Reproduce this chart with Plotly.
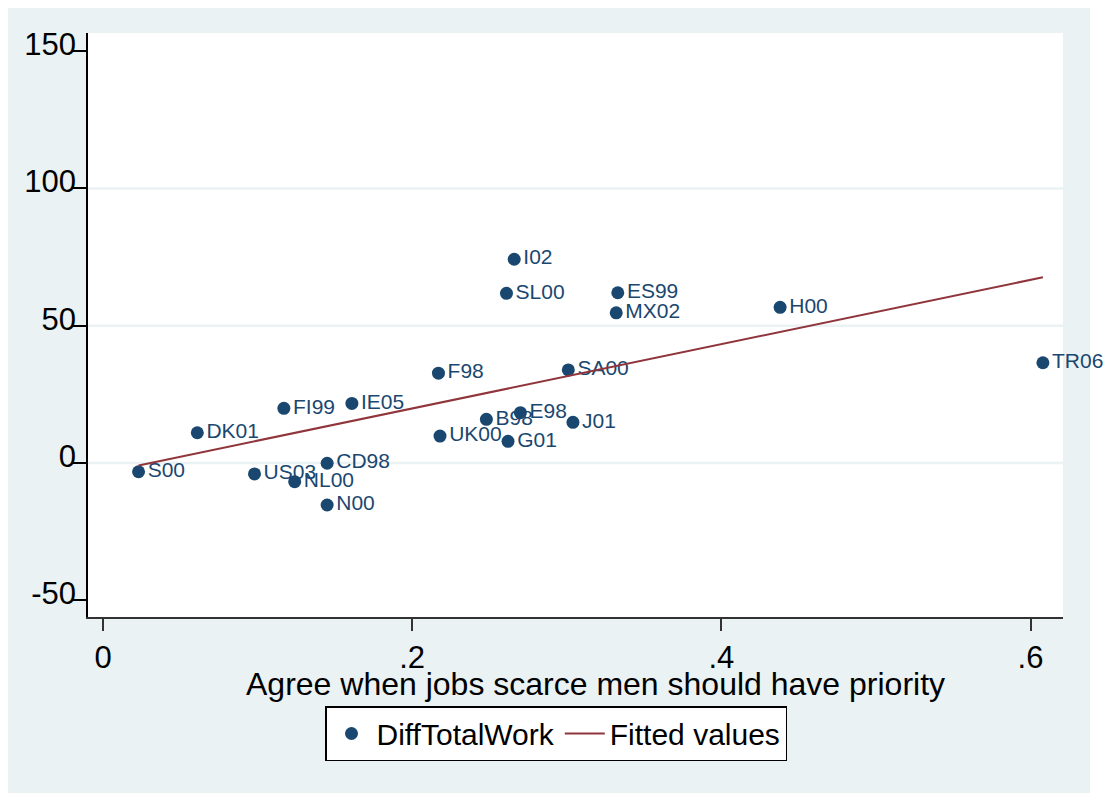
import numpy as np
import plotly.graph_objects as go

# ---- data ----
countries = ["S00", "DK01", "FI99", "IE05", "US03", "NL00", "CD98", "N00",
             "F98", "UK00", "B98", "E98", "G01", "SL00", "I02", "SA00",
             "J01", "ES99", "MX02", "H00", "TR06"]
agree_priority = [0.023, 0.061, 0.117, 0.161, 0.098, 0.124, 0.145, 0.145,
                  0.217, 0.218, 0.248, 0.270, 0.262, 0.261, 0.266, 0.301,
                  0.304, 0.333, 0.332, 0.438, 0.608]
diff_total_work = [-3.2, 11.0, 19.9, 21.7, -4.0, -6.8, -0.1, -15.3,
                   32.7, 9.8, 15.9, 18.3, 7.9, 61.8, 74.2, 33.9,
                   14.8, 62.0, 54.7, 56.7, 36.5]

y_ticks = [-50, 0, 50, 100, 150]
y_tick_labels = ["-50", "0", "50", "100", "150"]
y_grid = [0, 50, 100]
x_ticks = [0, 0.2, 0.4, 0.6]
x_tick_labels = ["0", ".2", ".4", ".6"]
x_title = "Agree when jobs scarce men should have priority"

# fitted values (OLS, as in Stata's lfit)
xa = np.array(agree_priority)
ya = np.array(diff_total_work)
slope, intercept = np.polyfit(xa, ya, 1)
fit_x = np.sort(xa)
fit_y = intercept + slope * fit_x

NAVY = "#1a476f"
MAROON = "#90353b"
BG = "#eaf2f3"
FONT = "Liberation Sans, Arial, sans-serif"

# the page adds an 8px body margin, so the figure is drawn 8px smaller/shifted
OFF = 8
W, H = 1115 - OFF, 793 - OFF
ML, MR, MT, MB = 88 - OFF, 1115 - 1063, 33 - OFF, 793 - 617
PW, PH = W - ML - MR, H - MT - MB


def px_x(p):  # page pixel -> paper x
    return (p - OFF - ML) / PW


def px_y(p):  # page pixel -> paper y
    return (H - MB - (p - OFF)) / PH


fig = go.Figure()
fig.add_trace(go.Scatter(
    x=agree_priority, y=diff_total_work, mode="markers+text",
    text=countries, textposition="middle right",
    textfont=dict(family=FONT, size=21, color=NAVY),
    marker=dict(color=NAVY, size=13),
    name="DiffTotalWork", cliponaxis=False,
))
fig.add_trace(go.Scatter(
    x=fit_x, y=fit_y, mode="lines",
    line=dict(color=MAROON, width=2),
    name="Fitted values", cliponaxis=False,
))

shapes = [
    # white strip to the right of the outer graph region
    dict(type="rect", xref="paper", yref="paper", layer="below",
         x0=px_x(1090), x1=px_x(1125), y0=px_y(800), y1=px_y(0),
         fillcolor="white", line=dict(width=0)),
]
for g in y_grid:
    shapes.append(dict(type="line", xref="paper", yref="y", layer="below",
                       x0=0, x1=1, y0=g, y1=g,
                       line=dict(color=BG, width=2.5)))

fig.update_layout(
    width=W, height=H,
    margin=dict(l=ML, r=MR, t=MT, b=MB),
    paper_bgcolor=BG, plot_bgcolor="white",
    font=dict(family=FONT, size=31, color="black"),
    shapes=shapes,
    showlegend=True,
    legend=dict(orientation="h", x=px_x(556), xanchor="center",
                y=px_y(706), yanchor="top",
                bgcolor="white", bordercolor="black", borderwidth=1.5,
                font=dict(family=FONT, size=30, color="black"),
                itemwidth=40, tracegroupgap=0),
    annotations=[dict(text=x_title, xref="paper", yref="paper",
                      x=px_x(595), y=px_y(684), xanchor="center",
                      yanchor="middle", showarrow=False,
                      font=dict(family=FONT, size=32, color="black"))],
    xaxis=dict(range=[-0.0097, 0.621], tickvals=x_ticks, ticktext=x_tick_labels,
               showgrid=False, zeroline=False, showline=True,
               linecolor="#333333", linewidth=1.5,
               ticks="outside", ticklen=12, tickwidth=1.5, tickcolor="#333333",
               tickfont=dict(size=31)),
    yaxis=dict(range=[-56.1, 156.6], tickvals=y_ticks, ticktext=y_tick_labels,
               showgrid=False, zeroline=False, showline=True,
               linecolor="black", linewidth=1.5,
               ticks="outside", ticklen=14, tickwidth=1.5, tickcolor="black",
               tickfont=dict(size=31), ticklabelstandoff=-10, ticklabelshift=-7),
)

fig.write_html("out.html")
